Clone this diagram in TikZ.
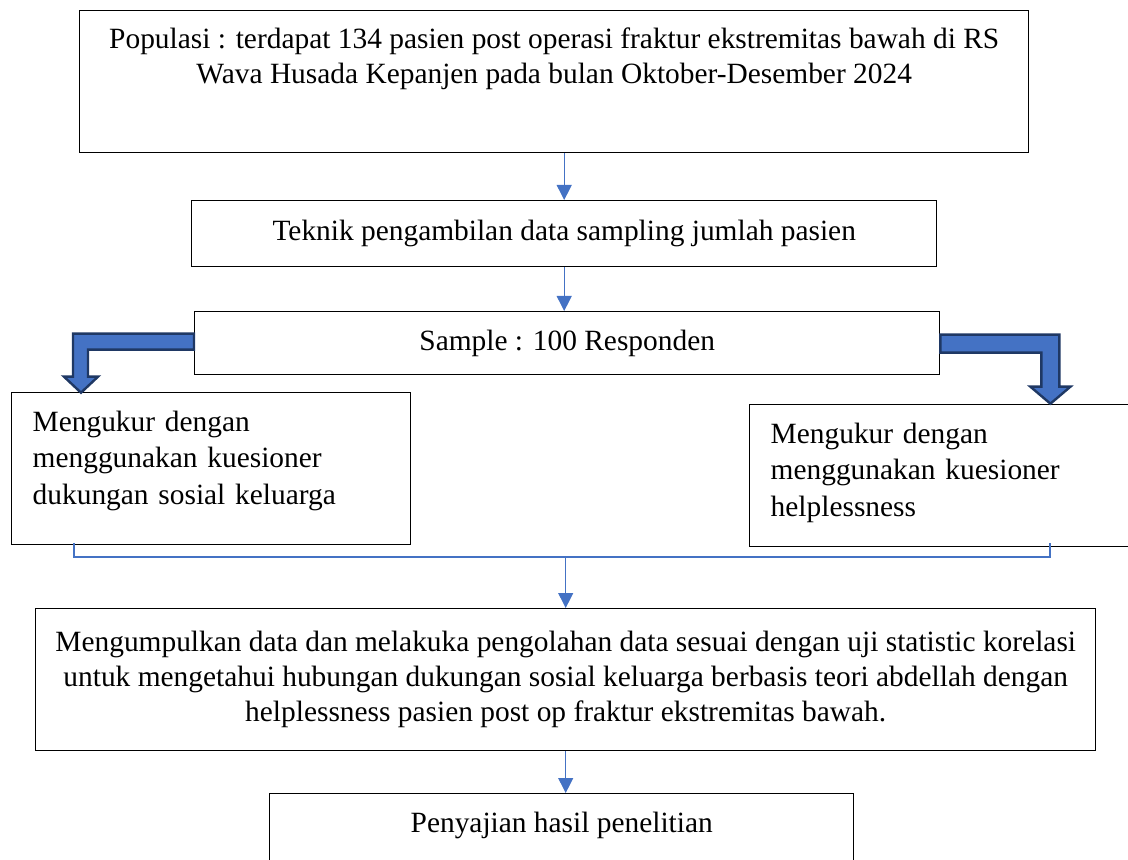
\documentclass[tikz,border=0pt]{standalone}
\usepackage{fontspec}
\setmainfont{Liberation Serif}
\usetikzlibrary{positioning,arrows.meta,calc}
\definecolor{lineblue}{HTML}{4472C4}
\definecolor{darkblue}{HTML}{1F3864}
\tikzstyle{fbox}=[rectangle, draw=black, line width=0.7pt, inner sep=0pt, anchor=north west, align=center, font=\fontsize{14.7}{17.5}\selectfont]
\tikzstyle{sbox}=[fbox, align=left, inner xsep=10.5pt, font=\fontsize{14.7}{18.2}\selectfont]
\tikzstyle{fline}=[-{Triangle[length=7.5pt,width=7.5pt]}, draw=lineblue, line width=0.5pt]
\tikzstyle{jline}=[-, draw=lineblue, line width=0.8pt]
\tikzstyle{barrow}=[fill=lineblue, draw=darkblue, line width=1.2pt, line join=miter]

\begin{document}
\begin{tikzpicture}[x=0.5pt, y=-0.5pt]
\useasboundingbox (0,0) rectangle (1128,860);
\node (POP) [fbox, minimum width=474.5pt, minimum height=71pt, text depth=26pt] at (79,10) {Populasi : terdapat 134 pasien post operasi fraktur ekstremitas bawah di RS\\Wava Husada Kepanjen pada bulan Oktober-Desember 2024};
\node (TEK) [fbox, minimum width=372.5pt, minimum height=33pt] at (191,200) {Teknik pengambilan data sampling jumlah pasien};
 \draw[fline] (TEK.north |- POP.south) -- (TEK.north);
\node (SMP) [fbox, minimum width=372.5pt, minimum height=31.5pt] at (194,311) {Sample : 100 Responden};
 \draw[fline] (TEK.south) -- (TEK.south |- SMP.north);
\node (UKL) [sbox, text width=178.5pt, minimum height=76pt, text depth=47.5pt] at (11,392) {Mengukur dengan\\menggunakan kuesioner\\dukungan sosial keluarga};
\node (UKR) [sbox, text width=172pt, minimum height=71pt, text depth=42.5pt] at (749,404) {Mengukur dengan\\menggunakan kuesioner\\helplessness};
 \draw[barrow] (SMP.west) ++(0,-9.5) -- ++(-121,0) -- ++(0,43) -- ++(-9,0) -- ++(17,16) -- ++(17,-16) -- ++(-10,0) -- ++(0,-27) -- ++(106,0) -- cycle;
 \draw[barrow] (SMP.east) ++(0,-8.5) -- ++(119,0) -- ++(0,52) -- ++(11,0) -- ++(-20,17) -- ++(-20,-17) -- ++(11,0) -- ++(0,-34) -- ++(-101,0) -- cycle;
\node (OLAH) [fbox, minimum width=530pt, minimum height=71pt] at (35,608) {Mengumpulkan data dan melakuka pengolahan data sesuai dengan uji statistic korelasi\\untuk mengetahui hubungan dukungan sosial keluarga berbasis teori abdellah dengan\\helplessness pasien post op fraktur ekstremitas bawah.};
 \coordinate (JL) at ($(UKL.south west)+(63,-2)$);
 \coordinate (JR) at ($(UKR.south west)+(301,-4)$);
 \coordinate (JOIN) at ($(OLAH.north)+(0,-51)$);
 \draw[jline] (JL) |- (JOIN) -| (JR);
 \draw[fline] (JOIN) -- (OLAH.north);
\node (HASIL) [fbox, minimum width=292pt, minimum height=36pt, text depth=7.5pt] at (269,793) {Penyajian hasil penelitian};
 \draw[fline] (OLAH.south) -- (OLAH.south |- HASIL.north);
\end{tikzpicture}
\end{document}
